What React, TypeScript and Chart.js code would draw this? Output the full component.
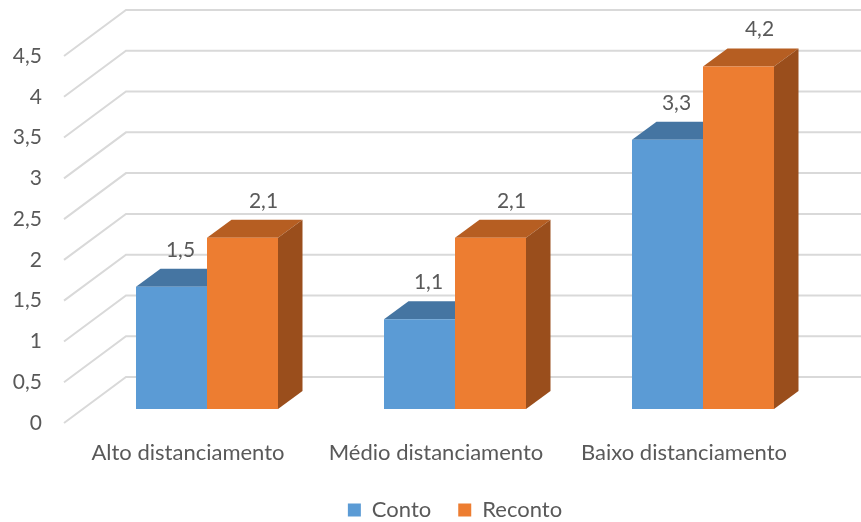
import React, { useEffect, useRef } from "react";
import { Chart, registerables } from "chart.js";

Chart.register(...registerables);

// ---- data ----
const categories = ["Alto distanciamento", "Médio distanciamento", "Baixo distanciamento"];
const contoValues = [1.5, 1.1, 3.3];
const recontoValues = [2.1, 2.1, 4.2];
const yTickValues = [0, 0.5, 1, 1.5, 2, 2.5, 3, 3.5, 4, 4.5];

// ---- styling ----
const FONT_FAMILY = "Lato, 'Open Sans', sans-serif";
const TEXT_SIZE = 22;
const NUMBER_SIZE = 21;
const TEXT_COLOR = "#595959";
const GRID_COLOR = "#d9d9d9";

const FACE = {
  conto: { front: "#5B9BD5", top: "#4575A2", side: "#3F6C96" },
  reconto: { front: "#ED7D31", top: "#B65E22", side: "#9A4E1C" },
};
const FACES = [FACE.conto, FACE.reconto];

// oblique projection: shift per step into depth
const BAR_DEPTH_DX = 24.5;
const BAR_DEPTH_DY = -18;
// floor front edge and back wall relative to the bar front plane
const FLOOR_DX = -19;
const FLOOR_DY = 14;
const WALL_DX = 43;
const WALL_DY = -32;
// value labels, per series horizontal nudge
const LABEL_DX = [9, 21];
const LABEL_RISE = 30;

const fmt = (v: number) => String(v).replace(".", ",");

function fillPoly(ctx: CanvasRenderingContext2D, pts: number[][]) {
  ctx.beginPath();
  ctx.moveTo(pts[0][0], pts[0][1]);
  for (let i = 1; i < pts.length; i++) ctx.lineTo(pts[i][0], pts[i][1]);
  ctx.closePath();
  ctx.fill();
}

const depthPlugin = {
  id: "depth3d",
  beforeDatasetsDraw(chart: any) {
    const { ctx, chartArea, scales } = chart;
    const yScale = scales.y;
    ctx.save();

    // back wall grid with the left-side diagonals
    ctx.strokeStyle = GRID_COLOR;
    ctx.lineWidth = 2;
    for (const v of yTickValues) {
      const py = yScale.getPixelForValue(v);
      ctx.beginPath();
      ctx.moveTo(chartArea.left + FLOOR_DX, py + FLOOR_DY);
      ctx.lineTo(chartArea.left + WALL_DX, py + WALL_DY);
      ctx.lineTo(chartArea.right + WALL_DX + 10, py + WALL_DY);
      ctx.stroke();
    }

    // top and side faces of each bar, drawn before the front faces
    chart.data.datasets.forEach((_ds: any, i: number) => {
      const meta = chart.getDatasetMeta(i);
      const faces = FACES[i];
      meta.data.forEach((el: any) => {
        const { x, y, base, width } = el.getProps(["x", "y", "base", "width"], true);
        const l = x - width / 2;
        const r = x + width / 2;
        ctx.fillStyle = faces.top;
        fillPoly(ctx, [
          [l, y],
          [r, y],
          [r + BAR_DEPTH_DX, y + BAR_DEPTH_DY],
          [l + BAR_DEPTH_DX, y + BAR_DEPTH_DY],
        ]);
        ctx.fillStyle = faces.side;
        fillPoly(ctx, [
          [r, y],
          [r + BAR_DEPTH_DX, y + BAR_DEPTH_DY],
          [r + BAR_DEPTH_DX, base + BAR_DEPTH_DY],
          [r, base],
        ]);
      });
    });
    ctx.restore();
  },
  afterDatasetsDraw(chart: any) {
    const { ctx } = chart;
    ctx.save();
    ctx.font = `${NUMBER_SIZE}px ${FONT_FAMILY}`;
    ctx.fillStyle = TEXT_COLOR;
    ctx.textAlign = "center";
    ctx.textBaseline = "alphabetic";
    chart.data.datasets.forEach((ds: any, i: number) => {
      const meta = chart.getDatasetMeta(i);
      meta.data.forEach((el: any, j: number) => {
        const { x, y } = el.getProps(["x", "y"], true);
        ctx.fillText(fmt(ds.data[j]), x + LABEL_DX[i], y - LABEL_RISE);
      });
    });
    ctx.restore();
  },
};

export default function App() {
  const canvasRef = useRef<HTMLCanvasElement | null>(null);

  useEffect(() => {
    const canvas = canvasRef.current;
    if (!canvas) return;
    const chart = new Chart(canvas, {
      type: "bar",
      data: {
        labels: categories,
        datasets: [
          {
            label: "Conto",
            data: contoValues,
            backgroundColor: FACE.conto.front,
            borderWidth: 0,
            barPercentage: 1,
            categoryPercentage: 0.5726,
          },
          {
            label: "Reconto",
            data: recontoValues,
            backgroundColor: FACE.reconto.front,
            borderWidth: 0,
            barPercentage: 1,
            categoryPercentage: 0.5726,
          },
        ],
      },
      options: {
        animation: false,
        responsive: false,
        maintainAspectRatio: false,
        layout: { padding: { top: 42, right: 34, left: 0, bottom: -9 } },
        plugins: {
          legend: {
            position: "bottom",
            fullSize: false,
            labels: {
              color: TEXT_COLOR,
              font: { family: FONT_FAMILY, size: TEXT_SIZE },
              boxWidth: 13,
              boxHeight: 13,
              padding: 27,
            },
          },
          tooltip: { enabled: false },
        },
        scales: {
          x: {
            grid: { display: false, drawTicks: false },
            border: { display: false },
            ticks: {
              color: TEXT_COLOR,
              font: { family: FONT_FAMILY, size: TEXT_SIZE },
              labelOffset: -19,
              padding: 31,
              maxRotation: 0,
              autoSkip: false,
            },
            afterFit: (s: any) => {
              s.height = 63;
              s.paddingLeft = 0;
              s.paddingRight = 0;
            },
          },
          y: {
            min: 0,
            max: 4.5,
            grid: { display: false, drawTicks: false },
            border: { display: false },
            ticks: {
              stepSize: 0.5,
              color: TEXT_COLOR,
              font: { family: FONT_FAMILY, size: NUMBER_SIZE },
              padding: 41,
              labelOffset: 14,
              callback: (v: any) => fmt(Number(v)),
            },
            afterFit: (s: any) => {
              s.width = 83;
              s.paddingTop = 0;
              s.paddingBottom = 0;
            },
          },
        },
      },
      plugins: [depthPlugin],
    });
    return () => chart.destroy();
  }, []);

  return (
    <div style={{ position: "fixed", left: 0, top: 0, width: 861, height: 522, background: "#fff" }}>
      <canvas ref={canvasRef} width={861} height={522} />
    </div>
  );
}
